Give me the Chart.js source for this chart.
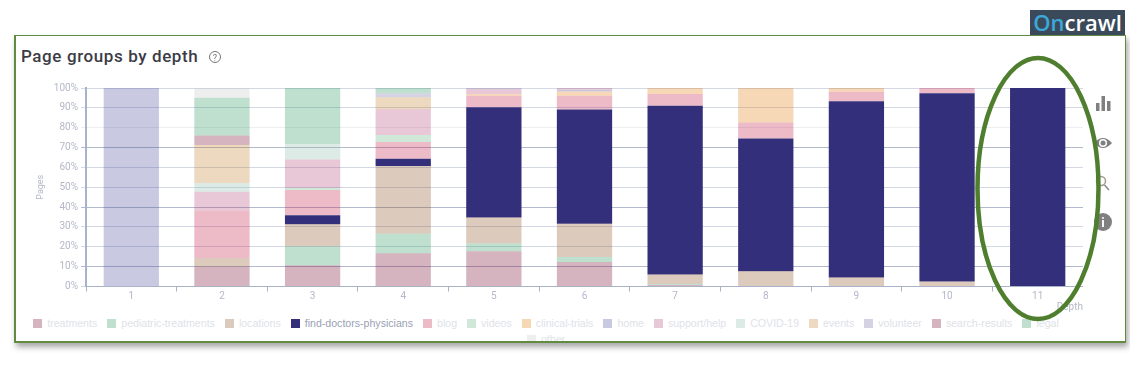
<!DOCTYPE html>
<html>
<head>
<meta charset="utf-8">
<script src="https://cdn.jsdelivr.net/npm/chart.js@4"></script>
<style>
  html, body { margin: 0; padding: 0; background: #fff; width: 1130px; height: 366px; overflow: hidden; }
  #card {
    position: absolute; left: 14px; top: 35px; width: 1109px; height: 305px;
    border: 1px solid #5f8c42; border-left-width: 2px; border-bottom-width: 2px;
    box-shadow: 2px 4px 6px rgba(0, 0, 0, 0.35); background: #fff;
  }
  #title {
    position: absolute; left: 21px; top: 46px; font: 500 17px Roboto, sans-serif;
    color: #3c3c46; letter-spacing: 0.6px; white-space: nowrap;
  }
  #logo {
    position: absolute; left: 1030px; top: 10px; width: 95px; height: 25px; background: #3b4a5a;
    font: 600 22px/24px "Open Sans", sans-serif; text-align: center; color: #fff;
  }
  #logo span { color: #3ba8da; }
  #wrap { position: absolute; left: 15px; top: 75px; width: 1068px; height: 238px; }
  #legend {
    position: absolute; left: 12px; top: 315px; width: 1068px; height: 26px; overflow: hidden;
    display: flex; flex-wrap: wrap; justify-content: center;
    font: 10.6px/16px "Liberation Sans", sans-serif; color: #e0e2e8;
  }
  #legend span.item { display: block; margin: 0 5px; white-space: nowrap; }
  #legend i { display: inline-block; width: 9px; height: 9px; margin-right: 5px; vertical-align: -1px; }
  #overlay { position: absolute; left: 0; top: 0; }
</style>
</head>
<body>
<div id="card"></div>
<div id="title">Page groups by depth</div>
<div id="logo"><span>On</span>crawl</div>
<div id="wrap"><canvas id="chart" width="1068" height="238"></canvas></div>
<div id="legend"></div>
<svg id="overlay" width="1130" height="366">
  <!-- help icon next to the title -->
  <circle cx="215" cy="57" r="5.5" fill="none" stroke="#777" stroke-width="1"/>
  <text x="215" y="60.5" font-family="Roboto" font-size="9" fill="#777" text-anchor="middle">?</text>
  <!-- side toolbar -->
  <g fill="#808080">
    <rect x="1096" y="103" width="3.5" height="8"/>
    <rect x="1101.5" y="96" width="3.5" height="15"/>
    <rect x="1107" y="101" width="3.5" height="10"/>
    <path d="M1094 143 q9 -10 18 0 q-9 10 -18 0 z"/>
    <circle cx="1103" cy="222" r="9"/>
  </g>
  <circle cx="1103" cy="143" r="4" fill="#fff"/>
  <circle cx="1103" cy="143" r="2.5" fill="#808080"/>
  <circle cx="1101" cy="181" r="4.5" fill="none" stroke="#a29a8c" stroke-width="1.5"/>
  <line x1="1104.5" y1="185" x2="1109" y2="190" stroke="#888" stroke-width="1.5"/>
  <text x="1103" y="227" font-family="Roboto" font-weight="700" font-size="13" fill="#fff" text-anchor="middle">i</text>
  <!-- green highlight round depth 11 -->
  <ellipse cx="1038" cy="188.5" rx="60.5" ry="130.5" fill="none" stroke="#4f7f2e" stroke-width="4.5"/>
</svg>
<script>
// Share of pages (%) per depth
const depths = ['1', '2', '3', '4', '5', '6', '7', '8', '9', '10', '11'];
const treatments = [0, 9.9, 10.7, 16.8, 17.8, 12.3, 0.8, 0, 0, 0, 0];
const pediatricTreatments = [0, 0, 9.6, 9.8, 3.9, 2.5, 0.5, 0, 0, 0, 0];
const locations = [0, 4.4, 11, 34.1, 13.1, 16.8, 4.7, 7.7, 4.5, 2.5, 0];
const findDoctors = [0, 0, 4.6, 3.7, 55.5, 57.6, 85.1, 66.9, 88.8, 94.8, 100];
const blog = [0, 23.8, 12.7, 8.4, 5.8, 6.9, 5.9, 8, 4.8, 2.7, 0];
const videos = [0, 0, 1, 3.5, 0, 0, 0, 0, 0, 0, 0];
const clinicalTrials = [0, 0, 0, 0, 0.9, 2.1, 3, 17.4, 1.9, 0, 0];
const home = [100, 0, 0, 0, 0, 0.9, 0, 0, 0, 0, 0];
const supportHelp = [0, 9.6, 14.4, 13.1, 2.5, 0.9, 0, 0, 0, 0, 0];
const covid = [0, 4.5, 7.8, 0, 0, 0, 0, 0, 0, 0, 0];
const events = [0, 19.1, 0, 5.9, 0, 0, 0, 0, 0, 0, 0];
const volunteer = [0, 0, 0, 2, 0.5, 0, 0, 0, 0, 0, 0];
const searchResults = [0, 4.8, 0, 0, 0, 0, 0, 0, 0, 0, 0];
const legal = [0, 19, 28.2, 2.7, 0, 0, 0, 0, 0, 0, 0];
const other = [0, 4.9, 0, 0, 0, 0, 0, 0, 0, 0, 0];

const series = [
  { label: 'treatments', data: treatments, color: 'rgba(115, 8, 45, 0.3)' },
  { label: 'pediatric-treatments', data: pediatricTreatments, color: 'rgba(42, 152, 95, 0.3)' },
  { label: 'locations', data: locations, color: 'rgba(138, 78, 32, 0.3)' },
  { label: 'find-doctors-physicians', data: findDoctors, color: '#342f7a' },
  { label: 'blog', data: blog, color: 'rgba(195, 25, 72, 0.3)' },
  { label: 'videos', data: videos, color: 'rgba(98, 178, 125, 0.3)' },
  { label: 'clinical-trials', data: clinicalTrials, color: 'rgba(225, 125, 18, 0.3)' },
  { label: 'home', data: home, color: 'rgba(75, 78, 158, 0.3)' },
  { label: 'support/help', data: supportHelp, color: 'rgba(178, 72, 118, 0.3)' },
  { label: 'COVID-19', data: covid, color: 'rgba(138, 188, 168, 0.3)' },
  { label: 'events', data: events, color: 'rgba(192, 128, 42, 0.3)' },
  { label: 'volunteer', data: volunteer, color: 'rgba(115, 108, 162, 0.3)' },
  { label: 'search-results', data: searchResults, color: 'rgba(115, 8, 45, 0.3)' },
  { label: 'legal', data: legal, color: 'rgba(42, 152, 95, 0.3)' },
  { label: 'other', data: other, color: 'rgba(198, 198, 198, 0.3)' }
];

// The screenshot was scaled, so the grid lines do not all look the same weight
function gridColor(ctx) {
  const v = ctx.tick ? ctx.tick.value : 0;
  if (v === 10 || v === 40 || v === 70) return '#b3b9cc';
  if (v === 80) return '#eceef2';
  return '#d3d8e4';
}

new Chart(document.getElementById('chart'), {
  type: 'bar',
  data: {
    labels: depths,
    datasets: series.map(s => ({
      label: s.label,
      data: s.data,
      backgroundColor: s.color,
      borderWidth: 0,
      barPercentage: 0.61,
      categoryPercentage: 1
    }))
  },
  options: {
    responsive: false,
    animation: false,
    devicePixelRatio: 1,
    layout: { padding: { top: 13, right: 0, bottom: 0, left: 0 } },
    plugins: {
      tooltip: { enabled: false },
      legend: { display: false }
    },
    scales: {
      x: {
        stacked: true,
        afterFit(scale) { scale.height = 26.5; },
        grid: { drawOnChartArea: false, tickLength: 5, color: '#a8b2c8' },
        border: { color: '#a8b2c8' },
        ticks: { color: '#b4b8c8', font: { family: 'Roboto', size: 10 }, padding: -1, maxRotation: 0 },
        title: {
          display: true, text: 'Depth', align: 'end', color: '#b4b8c8',
          font: { family: 'Roboto', size: 10 }, padding: { top: 0, bottom: 0 }
        }
      },
      y: {
        stacked: true,
        min: 0,
        max: 100,
        afterFit(scale) { scale.width = 71; },
        grid: { color: gridColor, tickLength: 5 },
        border: { color: '#a8b2c8', width: 2 },
        ticks: {
          stepSize: 10,
          color: '#b4b8c8',
          font: { family: 'Roboto', size: 10 },
          padding: 3,
          callback: v => v + '%'
        },
        title: {
          display: true, text: 'Pages', color: '#b4b8c8',
          font: { family: 'Roboto', size: 9 }, padding: { top: 20, bottom: 0 }
        }
      }
    }
  }
});

// Legend row: it wraps and gets cut by the card border, only find-doctors is active
const legendBox = document.getElementById('legend');
series.forEach(s => {
  const item = document.createElement('span');
  item.className = 'item';
  if (s.label === 'find-doctors-physicians') item.style.color = '#9a9fb5';
  const swatch = document.createElement('i');
  swatch.style.background = s.color;
  item.appendChild(swatch);
  item.appendChild(document.createTextNode(s.label));
  legendBox.appendChild(item);
});
</script>
</body>
</html>
